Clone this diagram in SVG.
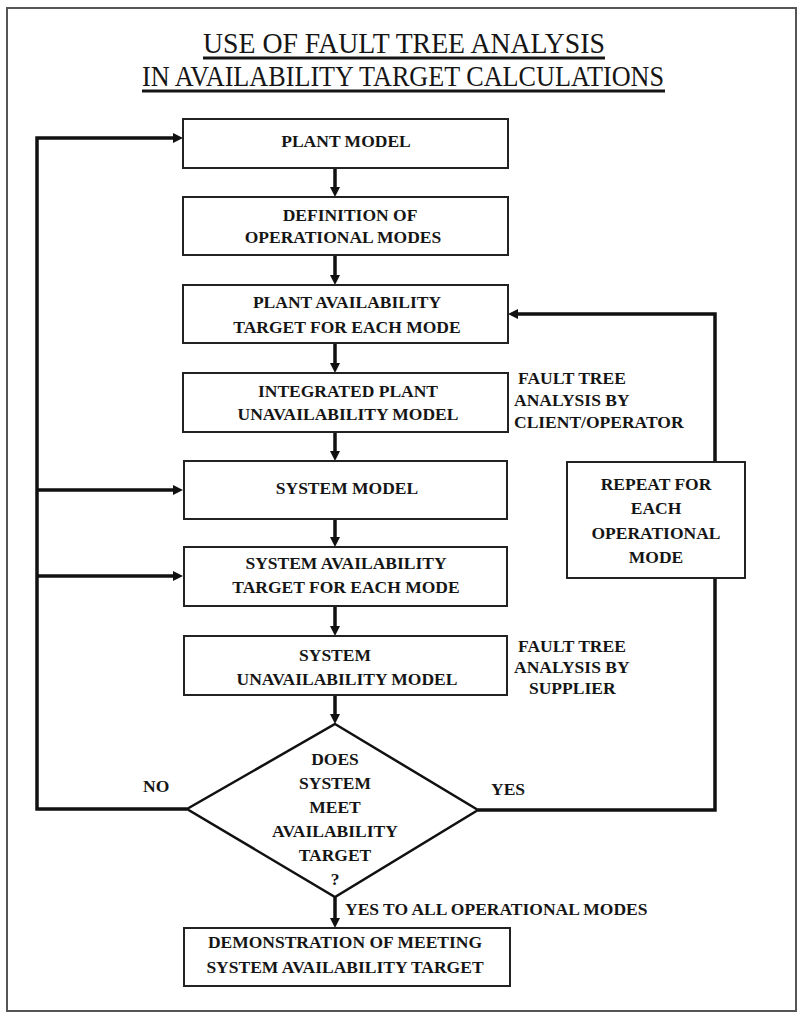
<svg xmlns="http://www.w3.org/2000/svg" width="797" height="1013" viewBox="0 0 797 1013">
  <style>
    .page { fill: #ffffff; stroke: #555555; stroke-width: 2; }
    .box { fill: #ffffff; stroke: #222222; stroke-width: 2; }
    .decision { fill: #ffffff; stroke: #111111; stroke-width: 2.5; stroke-linejoin: miter; }
    .lbl { font-family: "Liberation Serif", "Times New Roman", serif; font-weight: bold; font-size: 17.5px; fill: #151515; }
    .mid { text-anchor: middle; }
    .title { font-family: "Liberation Serif", "Times New Roman", serif; font-size: 29px; fill: #151515; }
    .rule { stroke: #151515; stroke-width: 3; }
    .conn { fill: none; stroke: #111111; stroke-width: 3.5; stroke-linejoin: miter; marker-end: url(#arrow); }
  </style>
  <defs>
    <marker id="arrow" markerUnits="userSpaceOnUse" markerWidth="12" markerHeight="12" refX="2" refY="5" orient="auto">
      <path d="M0,0 L10,5 L0,10 z" fill="#111111"/>
    </marker>
  </defs>

  <!-- page frame -->
  <rect class="page" x="7" y="8" width="789" height="1003"/>

  <!-- heading -->
  <g id="title">
    <text class="title" x="203" y="53" textLength="402" lengthAdjust="spacingAndGlyphs">USE OF FAULT TREE ANALYSIS</text>
    <line class="rule" x1="203" y1="58" x2="605" y2="58"/>
    <text class="title" x="142" y="86" textLength="522" lengthAdjust="spacingAndGlyphs">IN AVAILABILITY TARGET CALCULATIONS</text>
    <line class="rule" x1="142" y1="91" x2="665" y2="91"/>
  </g>

  <!-- connectors -->
  <g id="connectors">
    <path class="conn" d="M335,168 V189"/>
    <path class="conn" d="M335,255 V277"/>
    <path class="conn" d="M335,343 V365"/>
    <path class="conn" d="M335,432 V453"/>
    <path class="conn" d="M335,519 V539"/>
    <path class="conn" d="M335,606 V628"/>
    <path class="conn" d="M335,695 V716"/>
    <path class="conn" d="M335,897 V920"/>
    <!-- NO branch loops back on the left -->
    <path class="conn" d="M187,809 H37 V138 H175"/>
    <path class="conn" d="M37,490 H175"/>
    <path class="conn" d="M37,576 H175"/>
    <!-- YES branch loops back on the right -->
    <path class="conn" d="M478,810 H715 V314 H516"/>
  </g>

  <g id="plant-model">
    <rect class="box" x="183" y="119" width="325" height="49"/>
    <text class="lbl mid" x="346" y="147">PLANT MODEL</text>
  </g>

  <g id="operational-modes">
    <rect class="box" x="183" y="197" width="325" height="58"/>
    <text class="lbl mid" x="350" y="221">DEFINITION OF</text>
    <text class="lbl mid" x="343" y="243">OPERATIONAL MODES</text>
  </g>

  <g id="plant-target">
    <rect class="box" x="183" y="285" width="325" height="58"/>
    <text class="lbl mid" x="347" y="308">PLANT AVAILABILITY</text>
    <text class="lbl mid" x="347" y="333">TARGET FOR EACH MODE</text>
  </g>

  <g id="plant-unavailability">
    <rect class="box" x="183" y="373" width="325" height="59"/>
    <text class="lbl mid" x="348" y="397">INTEGRATED PLANT</text>
    <text class="lbl mid" x="348" y="420">UNAVAILABILITY MODEL</text>
  </g>

  <g id="client-note">
    <text class="lbl" x="518" y="384">FAULT TREE</text>
    <text class="lbl" x="514" y="406">ANALYSIS BY</text>
    <text class="lbl" x="514" y="428">CLIENT/OPERATOR</text>
  </g>

  <g id="system-model">
    <rect class="box" x="184" y="461" width="323" height="58"/>
    <text class="lbl mid" x="347" y="494">SYSTEM MODEL</text>
  </g>

  <g id="system-target">
    <rect class="box" x="184" y="547" width="323" height="59"/>
    <text class="lbl mid" x="346" y="569">SYSTEM AVAILABILITY</text>
    <text class="lbl mid" x="346" y="593">TARGET FOR EACH MODE</text>
  </g>

  <g id="system-unavailability">
    <rect class="box" x="184" y="636" width="323" height="59"/>
    <text class="lbl mid" x="335" y="661">SYSTEM</text>
    <text class="lbl mid" x="347" y="685">UNAVAILABILITY MODEL</text>
  </g>

  <g id="supplier-note">
    <text class="lbl" x="518" y="652">FAULT TREE</text>
    <text class="lbl" x="514" y="673">ANALYSIS BY</text>
    <text class="lbl" x="529" y="694">SUPPLIER</text>
  </g>

  <g id="repeat">
    <rect class="box" x="567" y="462" width="178" height="116"/>
    <text class="lbl mid" x="656" y="490">REPEAT FOR</text>
    <text class="lbl mid" x="656" y="514">EACH</text>
    <text class="lbl mid" x="656" y="539">OPERATIONAL</text>
    <text class="lbl mid" x="656" y="563">MODE</text>
  </g>

  <g id="decision">
    <polygon class="decision" points="335,724 478,810 335,897 187,809"/>
    <text class="lbl mid" x="335" y="765">DOES</text>
    <text class="lbl mid" x="335" y="789">SYSTEM</text>
    <text class="lbl mid" x="335" y="813">MEET</text>
    <text class="lbl mid" x="335" y="837">AVAILABILITY</text>
    <text class="lbl mid" x="335" y="861">TARGET</text>
    <text class="lbl mid" x="335" y="885">?</text>
  </g>

  <g id="branch-labels">
    <text class="lbl" x="143" y="792">NO</text>
    <text class="lbl" x="491" y="795">YES</text>
    <text class="lbl" x="345" y="915">YES TO ALL OPERATIONAL MODES</text>
  </g>

  <g id="demonstration">
    <rect class="box" x="184" y="928" width="326" height="58"/>
    <text class="lbl mid" x="345" y="948">DEMONSTRATION OF MEETING</text>
    <text class="lbl mid" x="345" y="973">SYSTEM AVAILABILITY TARGET</text>
  </g>
</svg>
